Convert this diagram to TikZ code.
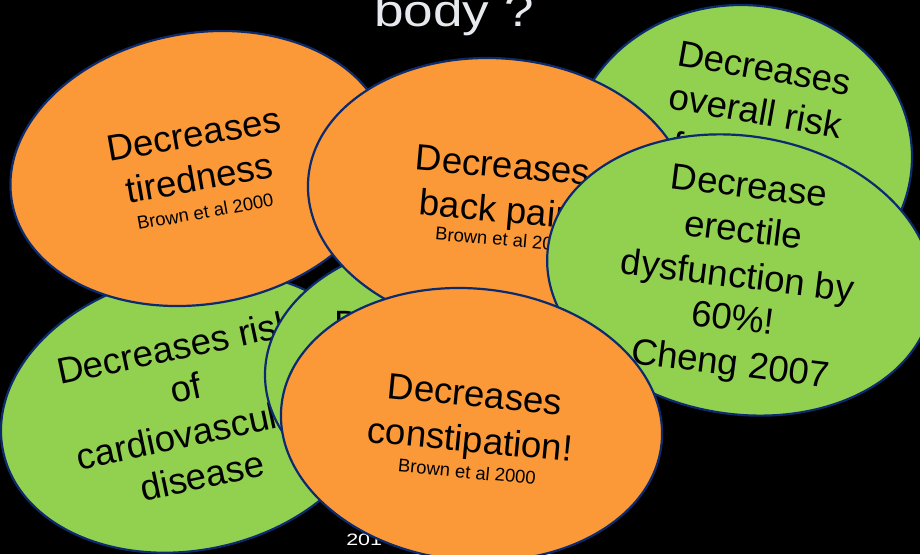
\documentclass[tikz,border=0pt]{standalone}
\usepackage{fontspec}
\setmainfont{Liberation Sans}
\definecolor{orng}{HTML}{FB9837}
\definecolor{grn}{HTML}{92D050}
\definecolor{edgeblue}{HTML}{0C2B6E}
\definecolor{ttl}{HTML}{E6EAEF}
\begin{document}
\begin{tikzpicture}[x=1pt,y=-1pt,
  blob/.style={draw=edgeblue, line width=2.2pt},
  orangeblob/.style={blob, fill=orng},
  greenblob/.style={blob, fill=grn},
  bigtxt/.style={font=\fontsize{36.6}{44}\selectfont, inner sep=0pt, anchor=base, text=black},
  smalltxt/.style={font=\fontsize{18.4}{22}\selectfont, inner sep=0pt, anchor=base, text=black}]
\fill[black] (0,0) rectangle (920,554);
\useasboundingbox (0,0) rectangle (920,554);

% title and footer
\node[font=\fontsize{45}{54}\selectfont, text=ttl, anchor=base west, inner sep=0pt, xscale=1.18] (title) at (374,27) {body ?};
\node[font=\fontsize{16.5}{20}\selectfont, text=white, anchor=base west, inner sep=0pt, xscale=1.3] (yr) at (346,545) {201};

% cardiovascular (green, bottom left)
\draw[greenblob, rotate around={12:(190,412)}] (190,412) ellipse [x radius=191pt, y radius=138pt];
\node[bigtxt, rotate=12] (c1) at (178.4,359.8) {Decreases risk};
\node[bigtxt, rotate=12] (c2) at (188.2,400.1) {of};
\node[bigtxt, rotate=12] (c3) at (195.4,445.5) {cardiovascular};
\node[bigtxt, rotate=12] (c4) at (204.9,488.6) {disease};

% middle green
\draw[greenblob] (456,375) ellipse [x radius=191pt, y radius=136pt];
\node[bigtxt, anchor=base west] (m1) at (334,336) {D};

% tiredness (orange, top left)
\draw[orangeblob, rotate around={10:(200,168.5)}] (200,168.5) ellipse [x radius=191pt, y radius=135.5pt];
\node[bigtxt, rotate=10] (t1) at (196,146.5) {Decreases};
\node[bigtxt, rotate=10] (t2) at (201.4,190.4) {tiredness};
\node[smalltxt, rotate=10] (t3) at (206.3,218) {Brown et al 2000};

% overall risk (green, top right)
\draw[greenblob] (741,157) ellipse [x radius=171pt, y radius=152pt];
\node[bigtxt, rotate=-10] (o1) at (762.2,80.2) {Decreases};
\node[bigtxt, rotate=-10] (o2) at (753.5,123.5) {overall risk};
\node[bigtxt, rotate=-10, anchor=base west] (o3) at (670.4,156.3) {f};

% back pain (orange, top middle)
\draw[orangeblob, rotate around={-5:(498.6,194.5)}] (498.6,194.5) ellipse [x radius=191pt, y radius=136pt];
\node[bigtxt, rotate=-5] (b1) at (502,177.6) {Decreases};
\node[bigtxt, rotate=-5] (b2) at (496.5,221.8) {back pain};
\node[smalltxt, rotate=-5] (b3) at (503.7,246) {Brown et al 2000};

% erectile dysfunction (green, right)
\draw[greenblob, rotate around={-9:(740,275)}] (740,275) ellipse [x radius=194pt, y radius=139pt];
\node[bigtxt, rotate=-7] (e1) at (747.7,197.8) {Decrease};
\node[bigtxt, rotate=-7] (e2) at (741.9,242.2) {erectile};
\node[bigtxt, rotate=-7] (e3) at (736.1,287.6) {dysfunction by};
\node[bigtxt, rotate=-7] (e4) at (731.4,330.1) {60\%!};
\node[bigtxt, rotate=-7] (e5) at (729,375.4) {Cheng 2007};

% constipation (orange, bottom middle)
\draw[orangeblob, rotate around={-5.5:(471.5,424.6)}] (471.5,424.6) ellipse [x radius=191pt, y radius=136pt];
\node[bigtxt, rotate=-5.5] (k1) at (473.8,406.7) {Decreases};
\node[bigtxt, rotate=-5.5] (k2) at (469,452) {constipation!};
\node[smalltxt, rotate=-5.5] (k3) at (466.4,478.3) {Brown et al 2000};
\end{tikzpicture}
\end{document}
